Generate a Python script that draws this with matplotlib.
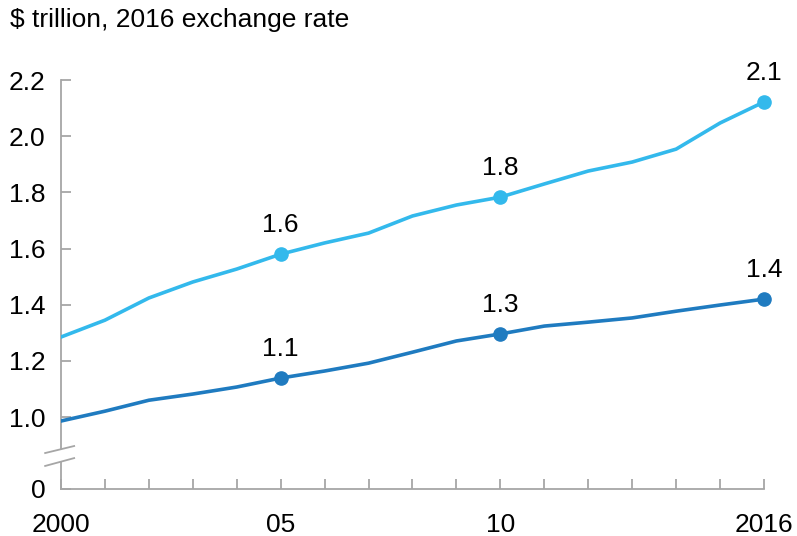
import numpy as np
import matplotlib; matplotlib.use('Agg')
import matplotlib.pyplot as plt
from matplotlib.lines import Line2D
from matplotlib.patches import Polygon

plt.rcParams['font.family'] = ['Liberation Sans', 'DejaVu Sans']

years = list(range(2000, 2017))
upper = [1.285, 1.345, 1.424, 1.481, 1.527, 1.580, 1.620, 1.655, 1.716,
         1.755, 1.783, 1.830, 1.876, 1.908, 1.954, 2.047, 2.122]
lower = [0.986, 1.021, 1.060, 1.082, 1.107, 1.139, 1.164, 1.192, 1.231,
         1.271, 1.296, 1.324, 1.338, 1.353, 1.377, 1.399, 1.420]
marked_years = [2005, 2010, 2016]
upper_labels = ['1.6', '1.8', '2.1']
lower_labels = ['1.1', '1.3', '1.4']
ytick_vals = [1.0, 1.2, 1.4, 1.6, 1.8, 2.0, 2.2]
ytick_labels = ['1.0', '1.2', '1.4', '1.6', '1.8', '2.0', '2.2']
xtick_vals = [2000, 2005, 2010, 2016]
xtick_labels = ['2000', '05', '10', '2016']

C_UP = '#33B9EC'; C_LO = '#1F7BC0'; GRAY = '#A6A6A6'
ZERO = 0.744  # where the "0" sits below the axis break

fig = plt.figure(figsize=(7.97, 5.36), dpi=100)
ax = fig.add_axes([0.0765, 0.0877, 0.8821, 0.763])
ax.set_xlim(2000, 2016); ax.set_ylim(ZERO, 2.2)

ax.plot(years, upper, color=C_UP, lw=2.6, solid_joinstyle='round', zorder=3)
ax.plot(years, lower, color=C_LO, lw=2.6, solid_joinstyle='round', zorder=3)
for yr, lu, ll in zip(marked_years, upper_labels, lower_labels):
    i = years.index(yr)
    ax.plot(yr, upper[i], 'o', color=C_UP, ms=9.5, zorder=4, clip_on=False)
    ax.plot(yr, lower[i], 'o', color=C_LO, ms=9.5, zorder=4, clip_on=False)
    ax.annotate(lu, (yr, upper[i]), xytext=(0, 21), textcoords='offset points',
                ha='center', va='center', fontsize=19)
    ax.annotate(ll, (yr, lower[i]), xytext=(0, 21), textcoords='offset points',
                ha='center', va='center', fontsize=19)

for s in ['top', 'right']:
    ax.spines[s].set_visible(False)
for s in ['left', 'bottom']:
    ax.spines[s].set_color(GRAY); ax.spines[s].set_linewidth(1.3)

ax.set_yticks([ZERO] + ytick_vals)
ax.set_yticklabels(['0'] + ytick_labels)
ax.set_xticks(years, minor=True)
ax.set_xticks(xtick_vals)
ax.set_xticklabels(xtick_labels)
ax.tick_params(axis='y', direction='in', length=7, width=1.3, color=GRAY,
               labelsize=19, pad=11)
ax.tick_params(axis='x', which='both', direction='in', length=7, width=1.3,
               color=GRAY, labelsize=19, pad=17)

# axis break marks (two slanted strokes with a white gap on the spine)
x0, x1 = 1999.64, 2000.30
b1 = (0.872, 0.897)
b2 = (0.826, 0.854)
ax.add_patch(Polygon([(x0, b2[0]), (x1, b2[1]), (x1, b1[1]), (x0, b1[0])],
                     closed=True, facecolor='white', edgecolor='none',
                     clip_on=False, zorder=5))
for b in (b1, b2):
    ax.add_line(Line2D([x0, x1], list(b), color=GRAY, lw=1.3,
                       clip_on=False, zorder=6))

fig.text(0.0125, 0.962, '$ trillion, 2016 exchange rate', fontsize=19,
         ha='left', va='center')

fig.savefig('out.png', dpi=100)
